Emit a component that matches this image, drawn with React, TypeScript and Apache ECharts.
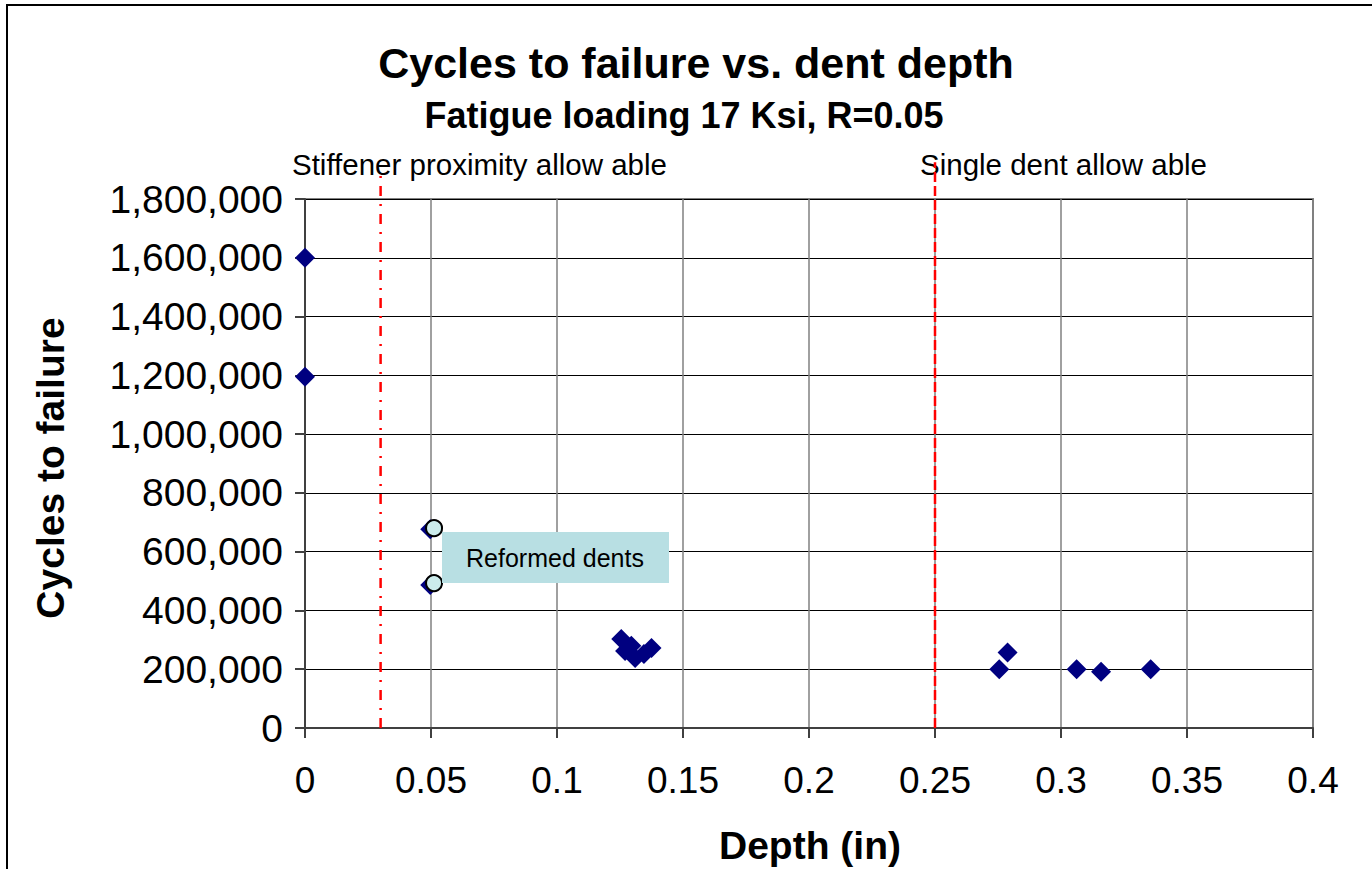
import React, { useEffect, useRef } from "react";
import * as echarts from "echarts";

// ---- Data ----
const titleText = "Cycles to failure vs. dent depth";
const subtitleText = "Fatigue loading 17 Ksi, R=0.05";
const xAxisTitle = "Depth (in)";
const yAxisTitle = "Cycles to failure";

const originalDepth = [0, 0, 0.0497, 0.0497, 0.1255, 0.127, 0.1295, 0.131, 0.1345, 0.1375, 0.2755, 0.2788, 0.3062, 0.3159, 0.3356];
const originalCycles = [1600000, 1195000, 676000, 487000, 303000, 262000, 280000, 238000, 252000, 272000, 200000, 257000, 200000, 191000, 200000];

const reformedDepth = [0.0512, 0.0512];
const reformedCycles = [680000, 493000];
const reformedLabel = "Reformed dents";

const stiffenerAllowable = 0.03;
const stiffenerLabel = "Stiffener proximity allow able";
const stiffenerLineTop = 1890000;
const singleDentAllowable = 0.25;
const singleDentLabel = "Single dent allow able";
const singleDentLineTop = 1925000;

const xMin = 0, xMax = 0.4, xStep = 0.05;
const yMin = 0, yMax = 1800000, yStep = 200000;

const FONT = "'Liberation Sans', Arial, sans-serif";

export default function App() {
  const ref = useRef<HTMLDivElement>(null);
  useEffect(() => {
    if (!ref.current) return;
    const chart = echarts.init(ref.current, null, { renderer: "svg" });
    const original = originalDepth.map((d, i) => [d, originalCycles[i]]);
    const reformed = reformedDepth.map((d, i) => [d, reformedCycles[i]]);
    chart.setOption({
      animation: false,
      backgroundColor: "#ffffff",
      grid: {
        left: 305,
        top: 199,
        right: 59,
        bottom: 141,
        show: true,
        borderColor: "#808080",
        borderWidth: 2,
        containLabel: false,
      },
      xAxis: {
        type: "value",
        min: xMin,
        max: xMax,
        interval: xStep,
        axisLine: { show: true, onZero: false, lineStyle: { color: "#404040", width: 2 } },
        axisTick: { show: true, length: 10, lineStyle: { color: "#404040", width: 2 } },
        axisLabel: {
          fontFamily: FONT,
          fontSize: 37,
          color: "#000",
          margin: 34,
          formatter: (v: number) => String(+v.toFixed(2)),
        },
        splitLine: { show: true, lineStyle: { color: "#808080", width: 1.5 } },
      },
      yAxis: {
        type: "value",
        min: yMin,
        max: yMax,
        interval: yStep,
        axisLine: { show: true, onZero: false, lineStyle: { color: "#404040", width: 2 } },
        axisTick: { show: true, length: 10, lineStyle: { color: "#404040", width: 2 } },
        axisLabel: {
          fontFamily: FONT,
          fontSize: 39,
          color: "#000",
          margin: 22,
          formatter: (v: number) => v.toLocaleString("en-US"),
        },
        splitLine: { show: true, lineStyle: { color: "#000000", width: 1 } },
      },
      series: [
        {
          type: "line",
          data: [[stiffenerAllowable, yMin], [stiffenerAllowable, stiffenerLineTop]],
          showSymbol: false,
          clip: false,
          silent: true,
          lineStyle: { color: "#ff0000", width: 2.5, type: [10, 8, 2, 8] },
          z: 1,
        },
        {
          type: "line",
          data: [[singleDentAllowable, yMin], [singleDentAllowable, singleDentLineTop]],
          showSymbol: false,
          clip: false,
          silent: true,
          lineStyle: { color: "#ff0000", width: 2.5, type: [10, 4] },
          z: 1,
        },
        {
          type: "scatter",
          data: original,
          symbol: "diamond",
          symbolSize: 20,
          clip: false,
          itemStyle: { color: "#000080", opacity: 1 },
          z: 3,
        },
        {
          type: "scatter",
          data: reformed,
          symbol: "circle",
          symbolSize: 16,
          clip: false,
          itemStyle: { color: "#ccecec", borderColor: "#000", borderWidth: 2, opacity: 1 },
          z: 4,
        },
      ],
      graphic: [
        {
          type: "rect",
          shape: { x: 7, y: 5, width: 1420, height: 920 },
          style: { fill: "none", stroke: "#000", lineWidth: 2 },
          silent: true,
          z: 0,
        },
        {
          type: "text",
          x: 696,
          y: 63,
          style: { text: titleText, font: `bold 43px ${FONT}`, fill: "#000", textAlign: "center", textVerticalAlign: "middle" },
        },
        {
          type: "text",
          x: 684,
          y: 115,
          style: { text: subtitleText, font: `bold 36px ${FONT}`, fill: "#000", textAlign: "center", textVerticalAlign: "middle" },
        },
        {
          type: "text",
          x: 292,
          y: 164,
          style: { text: stiffenerLabel, font: `29.5px ${FONT}`, fill: "#000", textAlign: "left", textVerticalAlign: "middle" },
        },
        {
          type: "text",
          x: 920,
          y: 164,
          style: { text: singleDentLabel, font: `29.5px ${FONT}`, fill: "#000", textAlign: "left", textVerticalAlign: "middle" },
        },
        {
          type: "text",
          x: 810,
          y: 845,
          style: { text: xAxisTitle, font: `bold 39px ${FONT}`, fill: "#000", textAlign: "center", textVerticalAlign: "middle" },
        },
        {
          type: "text",
          x: 50,
          y: 468,
          rotation: Math.PI / 2,
          style: { text: yAxisTitle, font: `bold 39px ${FONT}`, fill: "#000", textAlign: "center", textVerticalAlign: "middle" },
        },
        {
          type: "rect",
          shape: { x: 442, y: 532, width: 227, height: 51 },
          style: { fill: "#b8dfe3" },
          z: 10,
        },
        {
          type: "text",
          x: 555,
          y: 558,
          z: 11,
          style: { text: reformedLabel, font: `25px ${FONT}`, fill: "#000", textAlign: "center", textVerticalAlign: "middle" },
        },
      ],
    });
    return () => chart.dispose();
  }, []);
  return (
    <div
      ref={ref}
      style={{ position: "fixed", left: 0, top: 0, width: 1372, height: 869 }}
    />
  );
}
